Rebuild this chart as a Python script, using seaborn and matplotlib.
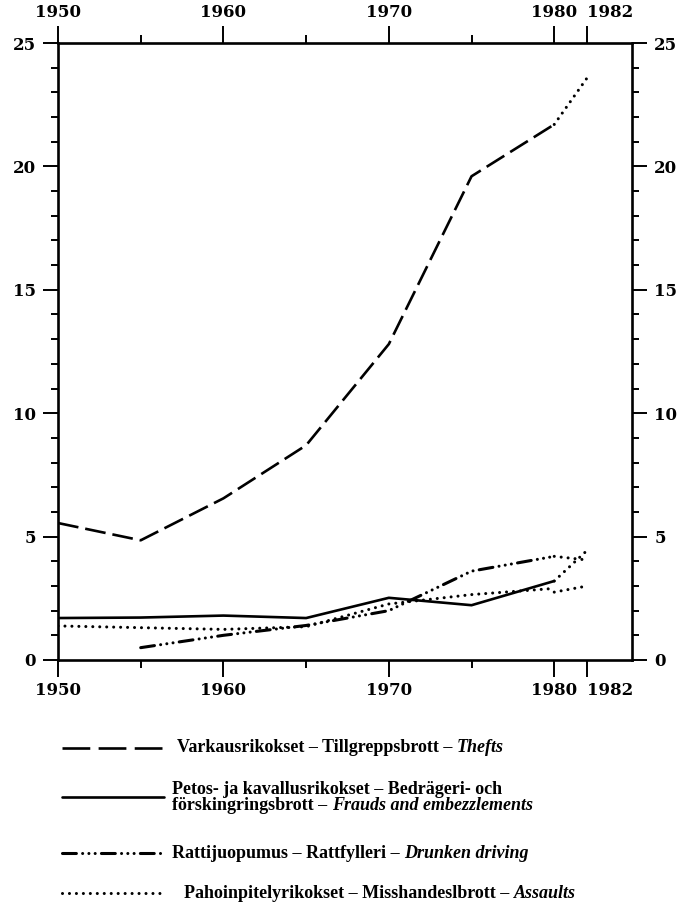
import matplotlib
matplotlib.use("Agg")
import matplotlib.pyplot as plt
from matplotlib.lines import Line2D
import seaborn as sns
import pandas as pd

# ---------------- data ----------------
years = [1950, 1955, 1960, 1965, 1970, 1975, 1980]
thefts = [5.55, 4.85, 6.55, 8.7, 12.8, 19.6, 21.7]
frauds = [1.7, 1.72, 1.8, 1.7, 2.52, 2.22, 3.2]
drunk_years = [1955, 1960, 1965, 1970, 1975, 1980]
drunk = [0.5, 1.0, 1.4, 2.0, 3.6, 4.2]
assaults = [1.38, 1.31, 1.24, 1.35, 2.27, 2.65, 2.9]

new_years = [1980, 1982]
thefts_new = [21.7, 23.6]
frauds_new = [3.2, 4.45]
drunk_new = [4.2, 4.05]
assaults_new = [2.75, 3.0]

xticks_major = [1950, 1960, 1970, 1980, 1982]
xticks_minor = [1955, 1965, 1975]
yticks_major = [0, 5, 10, 15, 20, 25]

legend_plain = [
    "Varkausrikokset \u2013 Tillgreppsbrott \u2013 ",
    "förskingringsbrott \u2013 ",
    "Rattijuopumus \u2013 Rattfylleri \u2013 ",
    "Pahoinpitelyrikokset \u2013 Misshandeslbrott \u2013 ",
]
legend_italic = ["Thefts", "Frauds and embezzlements", "Drunken driving", "Assaults"]
legend_extra = "Petos- ja kavallusrikokset \u2013 Bedrägeri- och"

# ---------------- style ----------------
sns.set_theme(style="white")
plt.rcParams["font.family"] = ["DejaVu Serif"]
plt.rcParams["font.weight"] = "bold"
plt.rcParams["text.color"] = "black"
plt.rcParams["lines.scale_dashes"] = False

W, H = 682, 907
fig = plt.figure(figsize=(W / 100, H / 100), dpi=100)
ax = fig.add_axes([58 / W, 1 - 660 / H, (632 - 58) / W, (660 - 43) / H])

LW = 1.9
LWD = 2.2
DASH = (0, (15, 5))
DOT = (0, (0.01, 5.0))
DASHDOT = (0, (10, 4.5, 0.01, 4.5, 0.01, 4.5, 0.01, 4.5))
common = dict(color="black", estimator=None, sort=False, ax=ax)

df_main = pd.DataFrame({"year": years, "thefts": thefts, "frauds": frauds,
                        "assaults": assaults})
df_drunk = pd.DataFrame({"year": drunk_years, "drunk": drunk})
df_new = pd.DataFrame({"year": new_years, "thefts": thefts_new, "frauds": frauds_new,
                       "drunk": drunk_new, "assaults": assaults_new})

sns.lineplot(data=df_main, x="year", y="thefts", linestyle=DASH, dash_capstyle="butt",
             linewidth=LW, **common)
sns.lineplot(data=df_main, x="year", y="frauds", linestyle="-", linewidth=LW, **common)
sns.lineplot(data=df_drunk, x="year", y="drunk", linestyle=DASHDOT, dash_capstyle="round",
             linewidth=LWD, **common)
sns.lineplot(data=df_main, x="year", y="assaults", linestyle=DOT, dash_capstyle="round",
             linewidth=LWD, **common)
for col in ["thefts", "frauds", "drunk", "assaults"]:
    sns.lineplot(data=df_new, x="year", y=col, linestyle=DOT, dash_capstyle="round",
                 linewidth=LWD, **common)

ax.set_xlim(1950, 1984.7)
ax.set_ylim(0, 25)
ax.set_xlabel("")
ax.set_ylabel("")
ax.set_xticks(xticks_major)
ax.set_xticks(xticks_minor, minor=True)
ax.set_yticks(yticks_major)
ax.set_yticks(range(0, 26), minor=True)
ax.set_xticklabels([str(v) for v in xticks_major])
ax.set_yticklabels([str(v) for v in yticks_major])

for s in ax.spines.values():
    s.set_linewidth(1.9)
    s.set_color("black")
    s.set_visible(True)

ax.tick_params(axis="both", which="both", direction="out", color="black", width=1.4,
               top=True, right=True, bottom=True, left=True,
               labeltop=True, labelright=True, labelsize=12, labelcolor="black")
ax.tick_params(axis="x", which="major", length=12, pad=4)
ax.tick_params(axis="x", which="minor", length=6)
ax.tick_params(axis="y", which="major", length=11, pad=5)
ax.tick_params(axis="y", which="minor", length=5)

for t in ax.xaxis.get_major_ticks():
    if t.get_loc() == 1982:
        t.label1.set_horizontalalignment("left")
        t.label2.set_horizontalalignment("left")
for lab in ax.get_xticklabels() + ax.get_yticklabels():
    lab.set_fontweight("bold")

# ---------------- legend ----------------
def fx(px):
    return px / W

def fy(py):
    return 1 - py / H

styles = [((0, (20, 6)), "butt", LW), ("-", "butt", LW), (DASHDOT, "round", LWD),
          (DOT, "round", LWD)]
sample_y = [748, 797, 853, 893]
for (ls, cap, lw), yy in zip(styles, sample_y):
    fig.add_artist(Line2D([fx(62), fx(164)], [fy(yy), fy(yy)], transform=fig.transFigure,
                          color="black", linewidth=lw, linestyle=ls, dash_capstyle=cap))

FAM = "Liberation Serif"
FS = 13
text_y = [748, 806, 853, 893]
text_x = [177, 172, 172, 184]
fig.text(fx(172), fy(790), legend_extra, fontsize=FS, family=FAM, fontweight="bold",
         va="center", ha="left", color="black")
renderer = fig.canvas.get_renderer()
for plain, ital, xx, yy in zip(legend_plain, legend_italic, text_x, text_y):
    t = fig.text(fx(xx), fy(yy), plain, fontsize=FS, family=FAM, fontweight="bold",
                 va="center", ha="left", color="black")
    bb = t.get_window_extent(renderer=renderer)
    fig.text(bb.x1 / fig.dpi / (W / 100), fy(yy), ital, fontsize=FS, family=FAM,
             fontweight="bold", fontstyle="italic", va="center", ha="left", color="black")

fig.savefig("out.png", dpi=100)
